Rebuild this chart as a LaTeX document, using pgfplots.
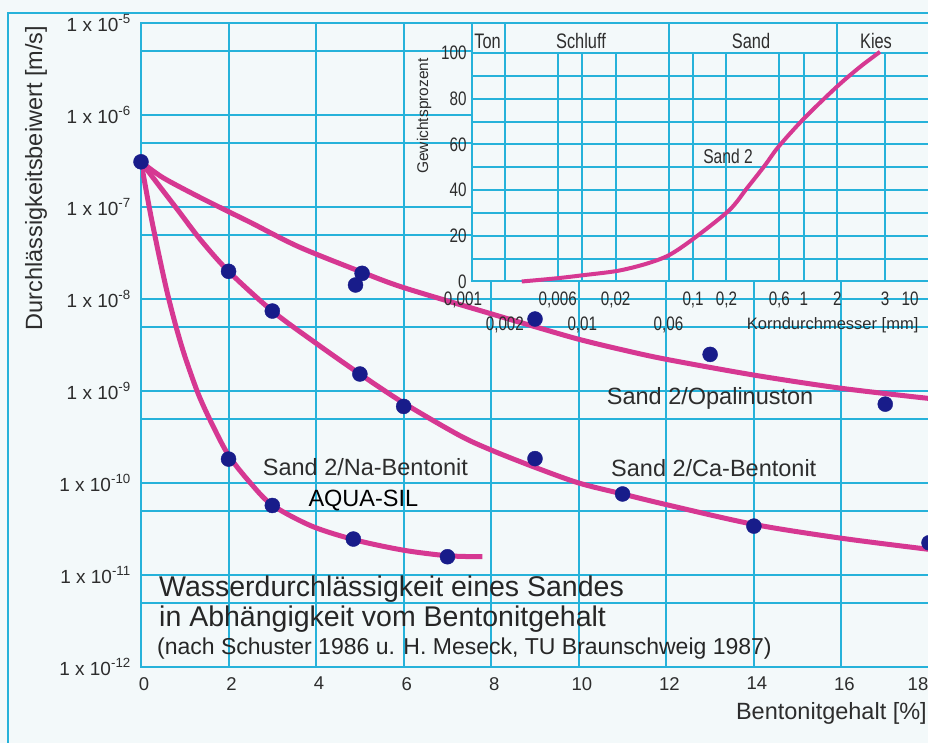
\documentclass[border=0pt]{standalone}
\usepackage{fontspec}
\setmainfont{Liberation Sans}
\newfontfamily\condf[FakeStretch=0.78]{Liberation Sans}
\usepackage{pgfplots}
\pgfplotsset{compat=1.18}
\definecolor{bgc}{RGB}{243,249,250}
\definecolor{gridc}{RGB}{38,178,218}
\definecolor{curvec}{RGB}{214,56,146}
\definecolor{dotc}{RGB}{24,28,138}
\definecolor{txtc}{RGB}{45,45,45}
\newcommand{\fs}[1]{\fontsize{#1bp}{#1bp}\selectfont}
\newcommand{\tl}[1]{1 x 10\textsuperscript{-#1}}
\begin{document}
\begin{tikzpicture}[x=1bp,y=1bp]
\tikzset{every node/.append style={inner sep=0pt, text=txtc}}
\fill[bgc] (0,0) rectangle (928,743);
\draw[gridc, line width=2.5bp] (8,-5) -- (8,730) -- (940,730);
% ---------------- main axis ----------------
\begin{axis}[
  at={(141bp,76bp)}, anchor=south west, scale only axis,
  width=788bp, height=644bp,
  xmin=0, xmax=18, ymode=log, ymin=1e-12, ymax=1e-5,
  xtick={0,2,4,6,8,10,12,14,16},
  xticklabels={0,2,4,6,8,10,12,14,16},
  extra x ticks={18}, extra x tick labels={18},
  extra x tick style={grid=major, xticklabel style={xshift=-14bp}},
  ytick={1e-12,1e-11,1e-10,1e-9,1e-8,1e-7,1e-6,1e-5},
  yticklabels={\tl{12},\tl{11},\tl{10},\tl{9},\tl{8},\tl{7},\tl{6},\tl{5}},
  minor ytick={5e-12,5e-11,5e-10,5e-9,5e-8,5e-7,5e-6},
  grid=both,
  major grid style={gridc, line width=2bp},
  minor grid style={gridc, line width=2bp},
  axis line style={gridc, line width=2bp},
  major tick length=0pt, minor tick length=0pt,
  tick style={draw=none},
  xticklabel style={font=\fs{18.5}, text=txtc, anchor=north, inner sep=0pt, yshift=-10bp, xshift=3bp},
  yticklabel style={font=\fs{19}, text=txtc, anchor=east, inner sep=0pt, xshift=-10bp},
]
% Sand 2 / Na-Bentonit (AQUA-SIL)
\addplot[curvec, line width=5bp, smooth, tension=0.5] coordinates {
 (0,3.1e-7) (0.2,9.3e-8) (0.4,3.16e-8) (0.6,1.17e-8) (0.8,5.0e-9) (1.0,2.4e-9)
 (1.3,9.5e-10) (1.6,4.6e-10) (2,2.0e-10) (2.5,1e-10) (3,5.75e-11) (3.9,3.4e-11)
 (4.9,2.4e-11) (6,1.86e-11) (7,1.62e-11) (7.8,1.58e-11)};
% Sand 2 / Ca-Bentonit
\addplot[curvec, line width=5bp, smooth, tension=0.5] coordinates {
 (0,3.1e-7) (0.49,1.53e-7) (0.87,8.9e-8) (1.36,4.4e-8) (2,2.0e-8) (3,7.4e-9)
 (4,3.3e-9) (5,1.53e-9) (6,7.4e-10) (7.27,3.3e-10) (8,2.28e-10) (9,1.48e-10)
 (10,1.0e-10) (11,7.6e-11) (12,5.82e-11) (14,3.55e-11) (16,2.51e-11) (18,1.9e-11)};
% Sand 2 / Opalinuston
\addplot[curvec, line width=5bp, smooth, tension=0.5] coordinates {
 (0,3.1e-7) (0.49,2.1e-7) (1.24,1.35e-7) (2,8.9e-8) (2.5,6.8e-8) (3.6,3.7e-8)
 (5.02,1.98e-8) (6,1.33e-8) (8,6.9e-9) (9,5.0e-9) (10,3.65e-9) (11,2.8e-9)
 (12,2.21e-9) (14,1.49e-9) (16,1.07e-9) (18,8.3e-10)};
% measured points
\addplot[only marks, mark=*, mark size=7.5bp, mark options={fill=dotc, draw=dotc}] coordinates {
 (0,3.1e-7)
 (2,1.82e-10) (3,5.7e-11) (4.85,2.46e-11) (7,1.58e-11)
 (2,2.0e-8) (3,7.4e-9) (5,1.53e-9) (6,6.8e-10) (9,1.84e-10) (11,7.6e-11) (14,3.4e-11) (18,2.24e-11)
 (5.05,1.9e-8) (4.9,1.42e-8) (9,6.06e-9) (13,2.5e-9) (17,7.2e-10)};
\end{axis}
% labels of main chart
\node[font=\fs{23.5}, rotate=90] at (36,565) {Durchlässigkeitsbeiwert [m/s]};
\node[font=\fs{23.5}, anchor=base east] at (927,23) {Bentonitgehalt [\%]};
\node[font=\fs{23.5}, anchor=base west] at (606.7,338) {Sand 2/Opalinuston};
\node[font=\fs{23.5}, anchor=base west] at (611,266.3) {Sand 2/Ca-Bentonit};
\node[font=\fs{23.5}, anchor=base west] at (262.7,267) {Sand 2/Na-Bentonit};
\node[font=\fs{23.5}, anchor=base west, text=black] at (308.3,236.3) {AQUA-SIL};
\node[font=\fs{28.5}, anchor=base west, text=black!85] at (159,146) {Wasserdurchlässigkeit eines Sandes};
\node[font=\fs{28.5}, anchor=base west, text=black!85] at (159,116) {in Abhängigkeit vom Bentonitgehalt};
\node[font=\fs{23}, anchor=base west, text=black!85] at (157,88) {(nach Schuster 1986 u. H. Meseck, TU Braunschweig 1987)};
% ---------------- inset ----------------
\fill[bgc] (471.5,461.5) rectangle (940,720);
\begin{axis}[
  at={(471.5bp,461.5bp)}, anchor=south west, scale only axis,
  width=457.5bp, height=228.5bp,
  xmode=log, xmin=0.001, xmax=13.46, ymin=0, ymax=100,
  clip=false,
  xtick={0.006,0.02,0.1,0.2,0.6,1,2,5.4},
  xticklabels={{0,006},{0,02},{0,1},{0,2},{0,6},1,2,3},
  extra x ticks={0.002,0.01,0.06},
  extra x tick labels={{0,002},{0,01},{0,06}},
  extra x tick style={grid=major, xticklabel style={yshift=-25bp}},
  ytick={0,10,20,30,40,50,60,70,80,90,100},
  yticklabels={0,,20,,40,,60,,80,,100},
  grid=major,
  major grid style={gridc, line width=2bp},
  axis line style={gridc, line width=2bp},
  major tick length=0pt, tick style={draw=none},
  xticklabel style={font=\condf\fs{19.5}, text=txtc, anchor=base, inner sep=0pt, yshift=-24.5bp},
  yticklabel style={font=\condf\fs{19.5}, text=txtc, anchor=east, inner sep=0pt, xshift=-4.8bp},
]
\addplot[curvec, line width=4bp, smooth, tension=0.5] coordinates {
 (0.00284,0) (0.00587,1.4) (0.0104,2.8) (0.0211,4.7) (0.0381,7.8) (0.061,11.6)
 (0.102,18.9) (0.212,31.2) (0.305,40.7) (0.446,50.9) (0.588,58.9) (1,71.3)
 (1.98,85.2) (3.21,93.9) (4.86,100.5)};
\draw[gridc, line width=2bp] (axis cs:0.001,100) -- (axis cs:0.001,113.2);
\draw[gridc, line width=2bp] (axis cs:0.002,100) -- (axis cs:0.002,113.2);
\draw[gridc, line width=2bp] (axis cs:0.06,100) -- (axis cs:0.06,113.2);
\draw[gridc, line width=2bp] (axis cs:2,100) -- (axis cs:2,113.2);
\end{axis}
\draw[gridc, line width=2bp] (140,720) -- (940,720);
\node[font=\condf\fs{21}, anchor=base] at (487.5,694.7) {Ton};
\node[font=\condf\fs{21}, anchor=base] at (581,694.7) {Schluff};
\node[font=\condf\fs{21}, anchor=base] at (751,694.7) {Sand};
\node[font=\condf\fs{21}, anchor=base] at (876,694.7) {Kies};
\node[font=\condf\fs{20}, anchor=base] at (728,579.7) {Sand 2};
\node[font=\fs{15.5}, rotate=90] at (424,627) {Gewichtsprozent};
\node[font=\condf\fs{19.5}, anchor=base] at (463,437) {0,001};
\node[font=\condf\fs{19.5}, anchor=base] at (910,437) {10};
\node[font=\fs{16.5}, anchor=base west] at (746.7,413.7) {Korndurchmesser [mm]};
\pgfresetboundingbox
\useasboundingbox (0,0) rectangle (928,743);
\end{tikzpicture}
\end{document}
